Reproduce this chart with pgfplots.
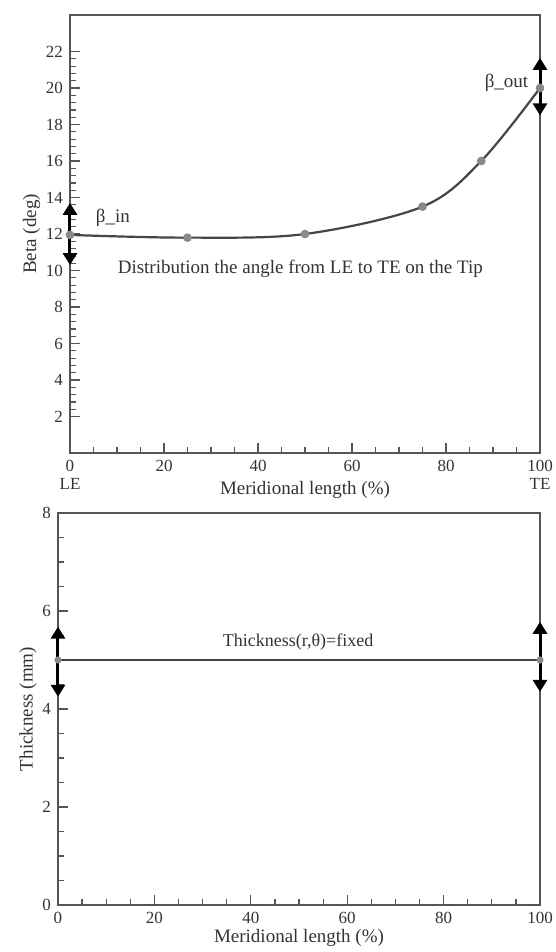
\documentclass[border=0pt]{standalone}
\usepackage{pgfplots}
\pgfplotsset{compat=1.18}
\usepackage{fontspec}
\setmainfont{Liberation Serif}
\usetikzlibrary{arrows.meta}
\definecolor{frame}{HTML}{555555}
\definecolor{curve}{HTML}{454545}
\definecolor{mk}{HTML}{8A8A8A}
\definecolor{txt}{HTML}{333333}
\begin{document}
\begin{tikzpicture}
\path[use as bounding box] (0,0) rectangle (278pt,-476pt);
\pgfplotsset{
  common/.style={
    scale only axis, clip=false,
    axis line style={frame, line width=0.8pt},
    tick style={frame, line width=0.6pt},
    tick align=inside,
    xtick pos=bottom, ytick pos=left,
    major tick length=5pt, minor tick length=3pt,
    xmin=0, xmax=100,
    xtick={0,20,40,60,80,100},
    minor x tick num=3,
    tick label style={font=\fontsize{8.5}{9}\selectfont, text=txt},
    label style={font=\fontsize{9.5}{10}\selectfont, text=txt},
    /pgf/number format/assume math mode=true,
  },
  dblarrow/.style={black, line width=1.5pt,
    {Triangle[length=6pt,width=7pt]}-{Triangle[length=6pt,width=7pt]}},
}
% ---------- top axis ----------
\begin{axis}[common,
  at={(35pt,-226.5pt)}, anchor=south west,
  width=235pt, height=219pt,
  ymin=0, ymax=24,
  ytick={2,4,...,22},
  minor y tick num=4,
  xticklabels={{0\\LE},20,40,60,80,{100\\TE}},
  xticklabel style={align=center},
  xlabel={Meridional length (\%)},
  ylabel={Beta (deg)},
  xlabel style={yshift=11pt},
  ylabel style={yshift=-4pt},
]
\addplot[curve, line width=1.1pt, smooth, tension=0.55,
  mark=*, mark size=1.6pt, mark options={fill=mk, draw=mk}]
  coordinates {(0,11.95) (25,11.8) (50,12.0) (75,13.5) (87.5,16.0) (100,20.0)};
\addplot[dblarrow] coordinates {(0,10.3) (0,13.7)};
\addplot[dblarrow] coordinates {(100,18.5) (100,21.65)};
\node[anchor=west, font=\fontsize{9.5}{10}\selectfont, text=txt] at (axis cs:4,12.9) {β\_in};
\node[anchor=east, font=\fontsize{9.5}{10}\selectfont, text=txt] at (axis cs:99,20.3) {β\_out};
\node[font=\fontsize{9.5}{10}\selectfont, text=txt] at (axis cs:49,10.1) {Distribution the angle from LE to TE on the Tip};
\end{axis}
% ---------- bottom axis ----------
\begin{axis}[common,
  at={(29pt,-452.5pt)}, anchor=south west,
  width=241pt, height=196pt,
  ymin=0, ymax=8,
  ytick={0,2,4,6,8},
  minor y tick num=3,
  xlabel={Meridional length (\%)},
  ylabel={Thickness (mm)},
  xlabel style={yshift=4pt},
  ylabel style={yshift=-4pt},
]
\addplot[curve, line width=1.1pt, mark=*, mark size=1.2pt, mark options={fill=mk, draw=mk}]
  coordinates {(0,5) (100,5)};
\addplot[dblarrow] coordinates {(0,4.25) (0,5.68)};
\addplot[dblarrow] coordinates {(100,4.35) (100,5.78)};
\node[font=\fontsize{9}{10}\selectfont, text=txt] at (axis cs:49.8,5.37) {Thickness(r,θ)=fixed};
\end{axis}
\end{tikzpicture}
\end{document}
